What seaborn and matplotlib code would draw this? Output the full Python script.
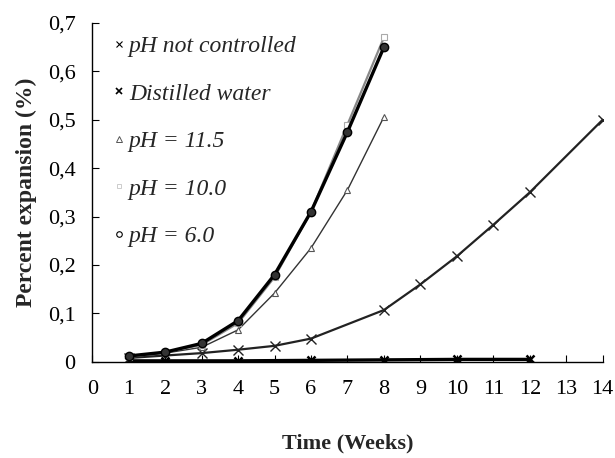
import numpy as np
import pandas as pd
import matplotlib
matplotlib.use("Agg")
import matplotlib.pyplot as plt
from matplotlib.lines import Line2D
import seaborn as sns

# data
weeks_nc = [1, 2, 3, 4, 5, 6, 8, 9, 10, 11, 12, 14]
ph_not_controlled = [0.008, 0.013, 0.018, 0.025, 0.033, 0.048, 0.107, 0.160, 0.218, 0.283, 0.350, 0.500]

weeks_dw = [1, 2, 4, 6, 8, 10, 12]
distilled_water = [0.002, 0.002, 0.002, 0.003, 0.004, 0.005, 0.005]

weeks_ph = [1, 2, 3, 4, 5, 6, 7, 8]
ph_115 = [0.010, 0.018, 0.030, 0.066, 0.142, 0.235, 0.355, 0.506]
ph_100 = [0.010, 0.020, 0.035, 0.080, 0.175, 0.310, 0.490, 0.670]
ph_60 = [0.012, 0.020, 0.038, 0.085, 0.180, 0.310, 0.475, 0.650]

labels = ["pH not controlled", "Distilled water", "pH = 11.5", "pH = 10.0", "pH = 6.0"]

sns.set_theme(style="ticks")
plt.rcParams['font.family'] = ['Liberation Serif', 'DejaVu Serif']

fig = plt.figure(figsize=(6.15, 4.58), dpi=100)
ax = fig.add_axes([0.15, 0.21, 0.83, 0.74])

sns.lineplot(x=weeks_nc, y=ph_not_controlled, ax=ax, color="#222222", lw=1.6,
             marker="x", markersize=7, mec="#222222", mew=1.0)
sns.lineplot(x=weeks_dw, y=distilled_water, ax=ax, color="black", lw=2.4,
             marker="x", markersize=6, mec="black", mew=1.8)
sns.lineplot(x=weeks_ph, y=ph_115, ax=ax, color="#333333", lw=1.0,
             marker="^", markersize=5, mfc="white", mec="#555555", mew=0.8)
sns.lineplot(x=weeks_ph, y=ph_100, ax=ax, color="#888888", lw=1.6,
             marker="s", markersize=4, mfc="white", mec="#aaaaaa", mew=0.8)
sns.lineplot(x=weeks_ph, y=ph_60, ax=ax, color="black", lw=2.4,
             marker="o", markersize=6, mfc="#333333", mec="black", mew=1.0)

ax.set_xlim(0, 14)
ax.set_ylim(0, 0.7)
ax.set_xticks(range(0, 15))
ax.set_yticks(np.arange(0, 0.71, 0.1))
ax.set_yticklabels(["0"] + [f"0,{i}" for i in range(1, 8)])
ax.tick_params(direction="in", length=5, width=0.8, labelsize=16, colors="black")
ax.tick_params(axis="x", pad=13)
ax.tick_params(axis="y", pad=12)
sns.despine(ax=ax)
for s in ["left", "bottom"]:
    ax.spines[s].set_color("black")
    ax.spines[s].set_linewidth(1.0)

ax.set_xlabel("Time (Weeks)", fontsize=16, fontweight="bold", labelpad=25)
ax.set_ylabel("Percent expansion (%)", fontsize=17, fontweight="bold", labelpad=8)

handles = [
    Line2D([], [], ls="none", marker="x", color="black", markersize=4, mew=0.8),
    Line2D([], [], ls="none", marker="x", color="black", markersize=4, mew=1.2),
    Line2D([], [], ls="none", marker="^", mfc="white", mec="#555555", markersize=4, mew=0.7),
    Line2D([], [], ls="none", marker="s", mfc="white", mec="#cccccc", markersize=3, mew=0.7),
    Line2D([], [], ls="none", marker="o", mfc="white", mec="black", markersize=4, mew=0.8),
]
ax.legend(handles, labels, loc="upper left", bbox_to_anchor=(0.0, 1.025), frameon=False,
          prop={"style": "italic", "size": 17}, handlelength=0.5, handletextpad=0.15,
          labelspacing=1.1)

fig.savefig("out.png", dpi=100)
